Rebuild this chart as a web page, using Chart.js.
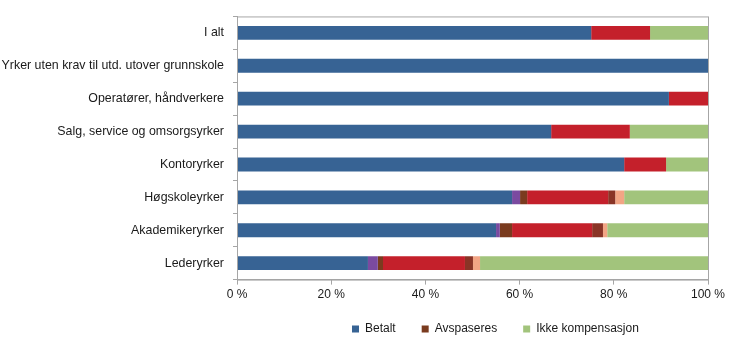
<!DOCTYPE html>
<html>
<head>
<meta charset="utf-8">
<script src="https://cdn.jsdelivr.net/npm/chart.js@4.4.0/dist/chart.umd.min.js"></script>
<style>
  body { margin: 0; background: #fff; }
  #wrap { width: 730px; height: 355px; }
</style>
</head>
<body>
<div id="wrap"><canvas id="kompensasjon-chart"></canvas></div>
<script>
const categories = [
  "I alt",
  "Yrker uten krav til utd. utover grunnskole",
  "Operatører, håndverkere",
  "Salg, service og omsorgsyrker",
  "Kontoryrker",
  "Høgskoleyrker",
  "Akademikeryrker",
  "Lederyrker"
];

// values in percent
const betalt = [75.2, 100, 91.7, 66.7, 82.2, 58.4, 55.0, 27.8];
const betaltOgAvsp = [0, 0, 0, 0, 0, 1.7, 0.8, 2.1];
const avspaseres = [0, 0, 0, 0, 0, 1.5, 2.6, 1.1];
const avspaseresRod = [12.5, 0, 8.3, 16.7, 8.9, 17.2, 17.0, 17.4];
const avspaseres2 = [0, 0, 0, 0, 0, 1.5, 2.3, 1.7];
const annet = [0, 0, 0, 0, 0, 1.9, 0.9, 1.5];
const ikkeKompensasjon = [12.3, 0, 0, 16.6, 8.9, 17.8, 21.4, 48.4];

const xTicks = [0, 20, 40, 60, 80, 100];
const legendShown = ["Betalt", "Avspaseres", "Ikke kompensasjon"];

const textColor = "#1a1a1a";
Chart.defaults.font.family = "'Liberation Sans', Arial, sans-serif";
Chart.defaults.font.size = 12;
Chart.defaults.color = textColor;

// grey frame around the plot area
const plotFrame = {
  id: "plotFrame",
  afterDraw(chart) {
    const { ctx, chartArea } = chart;
    ctx.save();
    ctx.strokeStyle = "#a6a6a6";
    ctx.lineWidth = 1;
    ctx.strokeRect(chartArea.left + 0.5, chartArea.top + 0.5,
      chartArea.right - chartArea.left, chartArea.bottom - chartArea.top);
    ctx.restore();
  }
};

// legend sits right of centre in the original, move it there
const legendPlace = {
  id: "legendPlace",
  afterLayout(chart) {
    const lg = chart.legend;
    const w = lg.right - lg.left;
    lg.left = 326;
    lg.right = lg.left + w;
    lg.top -= 8;
    lg.bottom -= 8;
  }
};

const ds = (label, data, color) => ({
  label,
  data,
  backgroundColor: color,
  borderWidth: 0,
  barPercentage: 0.42,
  categoryPercentage: 1
});

new Chart(document.getElementById("kompensasjon-chart"), {
  type: "bar",
  data: {
    labels: categories,
    datasets: [
      ds("Betalt", betalt, "#376394"),
      ds("Betalt og avspasering", betaltOgAvsp, "#7b4aa0"),
      ds("Avspaseres", avspaseres, "#7a3b1f"),
      ds("Avspaseres, timer", avspaseresRod, "#c4202b"),
      ds("Avspaseres, annet", avspaseres2, "#8a3426"),
      ds("Annet", annet, "#f2a585"),
      ds("Ikke kompensasjon", ikkeKompensasjon, "#a2c47c")
    ]
  },
  plugins: [plotFrame, legendPlace],
  options: {
    indexAxis: "y",
    responsive: true,
    maintainAspectRatio: false,
    animation: false,
    layout: { padding: { left: 0, right: 22, top: 14, bottom: 2 } },
    scales: {
      x: {
        stacked: true,
        min: 0,
        max: 100,
        afterBuildTicks: (scale) => {
          scale.ticks = xTicks.map(v => ({ value: v }));
        },
        ticks: {
          callback: (v) => v + " %",
          padding: 3,
          maxRotation: 0
        },
        grid: {
          drawOnChartArea: false,
          tickLength: 5,
          color: "#a6a6a6"
        },
        border: { color: "#a6a6a6" }
      },
      y: {
        stacked: true,
        afterFit: (scale) => { scale.width = 237; },
        ticks: { padding: 9, font: { size: 12.4 } },
        grid: {
          drawOnChartArea: false,
          offset: true,
          tickLength: 4,
          color: "#a6a6a6"
        },
        border: { color: "#a6a6a6" }
      }
    },
    plugins: {
      tooltip: { enabled: false },
      legend: {
        position: "bottom",
        align: "start",
        labels: {
          boxWidth: 7,
          boxHeight: 7,
          padding: 26,
          filter: (item) => legendShown.includes(item.text)
        }
      }
    }
  }
});
</script>
</body>
</html>
